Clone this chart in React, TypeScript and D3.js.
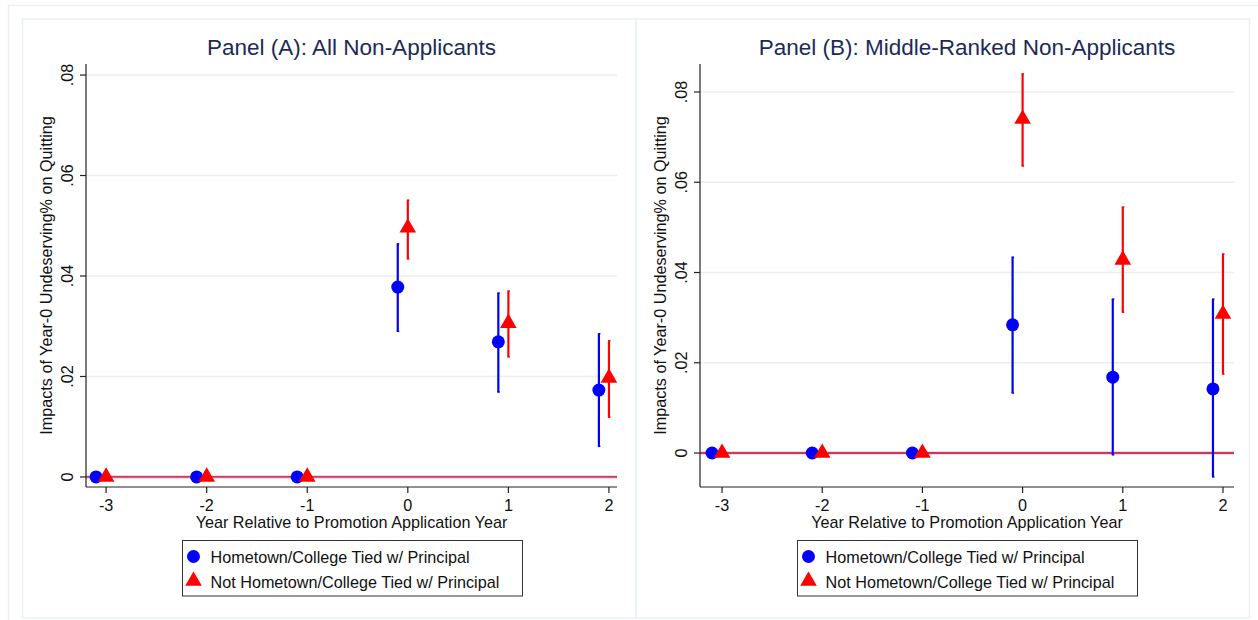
import * as d3 from 'd3';

// relative years, shared by both panels
const years = [-3, -2, -1, 0, 1, 2];
const xTicks = [-3, -2, -1, 0, 1, 2];
const yTicks = [0, 0.02, 0.04, 0.06, 0.08];
const yTickLabels = ['0', '.02', '.04', '.06', '.08'];

// Panel A: all non-applicants
const aTiedEst = [0, 0, 0, 0.0378, 0.0269, 0.0173];
const aTiedLo = [0, 0, 0, 0.029, 0.0169, 0.0061];
const aTiedHi = [0, 0, 0, 0.0464, 0.0366, 0.0285];
const aNotEst = [0, 0, 0, 0.0496, 0.0306, 0.0197];
const aNotLo = [0, 0, 0, 0.0434, 0.0239, 0.0119];
const aNotHi = [0, 0, 0, 0.0551, 0.037, 0.0271];

// Panel B: middle-ranked non-applicants
const bTiedEst = [0, 0, 0, 0.0284, 0.0168, 0.0142];
const bTiedLo = [0, 0, 0, 0.0133, -0.0004, -0.0053];
const bTiedHi = [0, 0, 0, 0.0434, 0.0341, 0.0341];
const bNotEst = [0, 0, 0, 0.074, 0.0428, 0.0308];
const bNotLo = [0, 0, 0, 0.0636, 0.0312, 0.0175];
const bNotHi = [0, 0, 0, 0.084, 0.0545, 0.0441];

const legendLabels = [
  'Hometown/College Tied w/ Principal',
  'Not Hometown/College Tied w/ Principal',
];

const BLUE = '#0000ff';
const RED = '#ff0000';
const FONT = '"Liberation Sans", Arial, Helvetica, sans-serif';
const FRAME = '#eaf1f3';
const FS = 16.2;

interface PanelProps {
  x0: number;
  title: string;
  axisX: number;
  axisRight: number;
  xDomain: [number, number];
  yDomain: [number, number];
  tied: { est: number[]; lo: number[]; hi: number[] };
  not: { est: number[]; lo: number[]; hi: number[] };
  legendX: number;
}

const TOP = 64;
const BOTTOM = 487;

function ErrorBar({ x, y1, y2, color }: { x: number; y1: number; y2: number; color: string }) {
  if (Math.abs(y1 - y2) < 1) return null;
  return (
    <g stroke={color} fill="none">
      <line x1={x} x2={x} y1={y1} y2={y2} strokeWidth={2.2} />
      <line x1={x - 1} x2={x + 1.5} y1={y1} y2={y1} strokeWidth={1.5} />
      <line x1={x - 1} x2={x + 1.5} y1={y2} y2={y2} strokeWidth={1.5} />
    </g>
  );
}

function Triangle({ cx, cy, color }: { cx: number; cy: number; color: string }) {
  const sym = d3.symbol(d3.symbolTriangle, 120)();
  return <path d={sym || ''} transform={`translate(${cx},${cy})`} fill={color} />;
}

function Panel(p: PanelProps) {
  const x = d3.scaleLinear().domain(p.xDomain).range([p.axisX, p.axisRight]);
  const y = d3.scaleLinear().domain(p.yDomain).range([BOTTOM, TOP]);
  const midX = (p.axisX + p.axisRight) / 2;
  const midY = (TOP + BOTTOM) / 2;

  return (
    <g>
      <rect x={p.x0} y={19} width={613.5} height={599} fill="#fff" stroke={FRAME} strokeWidth={1.5} />
      <text x={midX} y={55} textAnchor="middle" fontSize={22.5} fill="#1c2b55" fontFamily={FONT}>
        {p.title}
      </text>

      {/* grid */}
      {yTicks.slice(1).map(t => (
        <line key={t} x1={p.axisX} x2={p.axisRight} y1={y(t)} y2={y(t)} stroke="#e8eff1" strokeWidth={1.5} />
      ))}

      {/* zero line */}
      <line x1={p.axisX} x2={p.axisRight} y1={y(0)} y2={y(0)} stroke="#f3b3bf" strokeWidth={3} />
      <line x1={p.axisX} x2={p.axisRight} y1={y(0)} y2={y(0)} stroke="#b8143c" strokeWidth={1.3} />

      {/* axes */}
      <line x1={p.axisX} x2={p.axisX} y1={TOP} y2={BOTTOM} stroke="#222" strokeWidth={1.2} />
      <line x1={p.axisX} x2={p.axisRight} y1={BOTTOM} y2={BOTTOM} stroke="#222" strokeWidth={1.2} />
      {yTicks.map((t, i) => (
        <g key={t}>
          <line x1={p.axisX - 6} x2={p.axisX} y1={y(t)} y2={y(t)} stroke="#222" strokeWidth={1.2} />
          <text
            transform={`translate(${p.axisX - 13},${y(t)}) rotate(-90)`}
            textAnchor="middle"
            fontSize={FS}
            fontFamily={FONT}
            fill="#111"
          >
            {yTickLabels[i]}
          </text>
        </g>
      ))}
      {xTicks.map(t => (
        <g key={t}>
          <line x1={x(t)} x2={x(t)} y1={BOTTOM} y2={BOTTOM + 6} stroke="#222" strokeWidth={1.2} />
          <text x={x(t)} y={BOTTOM + 24} textAnchor="middle" fontSize={FS} fontFamily={FONT} fill="#111">
            {t}
          </text>
        </g>
      ))}
      <text x={midX} y={528} textAnchor="middle" fontSize={FS} fontFamily={FONT} fill="#111">
        Year Relative to Promotion Application Year
      </text>
      <text
        transform={`translate(${p.axisX - 34},${midY}) rotate(-90)`}
        textAnchor="middle"
        fontSize={FS}
        fontFamily={FONT}
        fill="#111"
      >
        Impacts of Year-0 Undeserving% on Quitting
      </text>

      {/* error bars */}
      {years.map((yr, i) => (
        <g key={'e' + yr}>
          <ErrorBar x={x(yr - 0.1)} y1={y(p.tied.lo[i])} y2={y(p.tied.hi[i])} color={BLUE} />
          <ErrorBar x={x(yr)} y1={y(p.not.lo[i])} y2={y(p.not.hi[i])} color={RED} />
        </g>
      ))}
      {/* markers */}
      {years.map((yr, i) => (
        <g key={'m' + yr}>
          <circle cx={x(yr - 0.1)} cy={y(p.tied.est[i])} r={6.5} fill={BLUE} />
          <Triangle cx={x(yr)} cy={y(p.not.est[i])} color={RED} />
        </g>
      ))}

      {/* legend */}
      <rect x={p.legendX} y={540.5} width={340} height={55.5} fill="#fff" stroke="#333" strokeWidth={1} />
      <circle cx={p.legendX + 11} cy={556.5} r={6.5} fill={BLUE} />
      <Triangle cx={p.legendX + 11} cy={581} color={RED} />
      <text x={p.legendX + 28} y={562.5} fontSize={FS} fontFamily={FONT} fill="#111">
        {legendLabels[0]}
      </text>
      <text x={p.legendX + 28} y={587.5} fontSize={FS} fontFamily={FONT} fill="#111">
        {legendLabels[1]}
      </text>
    </g>
  );
}

export default function App() {
  return (
    <svg
      width={1258}
      height={620}
      style={{ position: 'absolute', left: 0, top: 0, display: 'block' }}
    >
      <rect x={0} y={0} width={1258} height={620} fill="#fff" />
      <rect x={8.5} y={5.5} width={1260} height={620} fill="#fff" stroke={FRAME} strokeWidth={1.5} />
      <Panel
        x0={22.5}
        title="Panel (A): All Non-Applicants"
        axisX={86}
        axisRight={617}
        xDomain={[-3.2, 2.08]}
        yDomain={[-0.002, 0.0822]}
        tied={{ est: aTiedEst, lo: aTiedLo, hi: aTiedHi }}
        not={{ est: aNotEst, lo: aNotLo, hi: aNotHi }}
        legendX={182.5}
      />
      <Panel
        x0={636}
        title="Panel (B): Middle-Ranked Non-Applicants"
        axisX={700}
        axisRight={1234}
        xDomain={[-3.22, 2.11]}
        yDomain={[-0.00753, 0.0862]}
        tied={{ est: bTiedEst, lo: bTiedLo, hi: bTiedHi }}
        not={{ est: bNotEst, lo: bNotLo, hi: bNotHi }}
        legendX={797.5}
      />
    </svg>
  );
}
